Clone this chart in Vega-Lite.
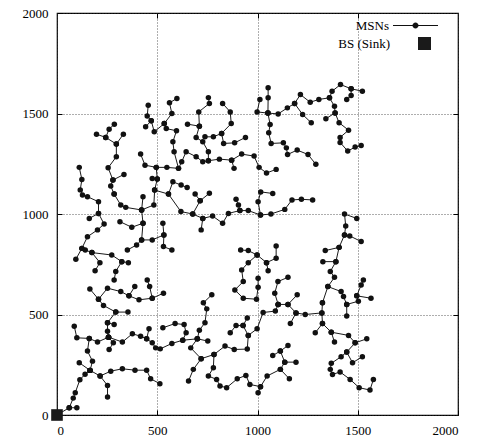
{
  "$schema": "https://vega.github.io/schema/vega-lite/v6.json",
  "width": 401,
  "height": 402,
  "autosize": {"type": "none"},
  "padding": {"left": 57, "top": 13, "right": 23, "bottom": 26},
  "background": "white",
  "config": {
    "view": {"stroke": "black", "strokeWidth": 1.2},
    "axis": {
      "labelFont": "Liberation Serif",
      "labelFontSize": 13,
      "labelColor": "black",
      "domain": false,
      "tickColor": "black",
      "tickSize": -5,
      "tickWidth": 1,
      "gridColor": "#333333",
      "gridDash": [1, 2],
      "gridWidth": 0.8,
      "title": null,
      "format": "d"
    },
    "axisX": {"labelPadding": 14},
    "axisY": {"labelPadding": 14}
  },
  "datasets": {
    "tree": [
      {"c":1,"x":0,"y":0},{"c":1,"x":61,"y":36},{"c":1,"x":81,"y":84},{"c":1,"x":91,"y":111},{"c":1,"x":114,"y":175},{"c":1,"x":140,"y":203},{"c":1,"x":165,"y":222},
      {"c":2,"x":61,"y":36},{"c":2,"x":99,"y":36},
      {"c":3,"x":165,"y":222},{"c":3,"x":111,"y":260},
      {"c":4,"x":165,"y":222},{"c":4,"x":177,"y":268},{"c":4,"x":152,"y":318},{"c":4,"x":161,"y":381},
      {"c":5,"x":86,"y":442},{"c":5,"x":99,"y":384},{"c":5,"x":161,"y":381},{"c":5,"x":202,"y":363},{"c":5,"x":257,"y":387},
      {"c":6,"x":257,"y":387},{"c":6,"x":252,"y":417},{"c":6,"x":252,"y":459},{"c":6,"x":293,"y":512},{"c":6,"x":354,"y":512},
      {"c":7,"x":252,"y":459},{"c":7,"x":285,"y":450},
      {"c":8,"x":257,"y":387},{"c":8,"x":281,"y":359},{"c":8,"x":260,"y":326},
      {"c":9,"x":257,"y":387},{"c":9,"x":326,"y":363},{"c":9,"x":376,"y":404},{"c":9,"x":417,"y":392},{"c":9,"x":447,"y":379},{"c":9,"x":475,"y":359},{"c":9,"x":492,"y":334},{"c":9,"x":515,"y":329},{"c":9,"x":573,"y":356},{"c":9,"x":627,"y":372},{"c":9,"x":700,"y":379},{"c":9,"x":752,"y":368},
      {"c":10,"x":447,"y":379},{"c":10,"x":459,"y":429},
      {"c":11,"x":627,"y":372},{"c":11,"x":644,"y":409},{"c":11,"x":634,"y":450},{"c":11,"x":589,"y":455},{"c":11,"x":528,"y":434},
      {"c":12,"x":700,"y":379},{"c":12,"x":710,"y":422},{"c":12,"x":738,"y":459},{"c":12,"x":747,"y":528},{"c":12,"x":730,"y":558},{"c":12,"x":772,"y":598},
      {"c":13,"x":165,"y":222},{"c":13,"x":215,"y":194},{"c":13,"x":252,"y":147},{"c":13,"x":252,"y":89},
      {"c":14,"x":215,"y":194},{"c":14,"x":268,"y":218},{"c":14,"x":326,"y":230},{"c":14,"x":389,"y":223},{"c":14,"x":447,"y":223},{"c":14,"x":467,"y":180},{"c":14,"x":513,"y":156},
      {"c":15,"x":700,"y":379},{"c":15,"x":667,"y":334},{"c":15,"x":719,"y":280},{"c":15,"x":783,"y":301},{"c":15,"x":838,"y":343},{"c":15,"x":884,"y":326},{"c":15,"x":949,"y":328},{"c":15,"x":954,"y":396},{"c":15,"x":998,"y":429},{"c":15,"x":1028,"y":510},{"c":15,"x":1089,"y":517},{"c":15,"x":1103,"y":550},
      {"c":16,"x":719,"y":280},{"c":16,"x":680,"y":227},{"c":16,"x":656,"y":169},
      {"c":17,"x":783,"y":301},{"c":17,"x":780,"y":235},{"c":17,"x":755,"y":194},{"c":17,"x":796,"y":177},{"c":17,"x":813,"y":144},{"c":17,"x":846,"y":136},{"c":17,"x":899,"y":180},{"c":17,"x":942,"y":197},{"c":17,"x":962,"y":152},{"c":17,"x":1015,"y":141},{"c":17,"x":1003,"y":111},
      {"c":18,"x":1015,"y":141},{"c":18,"x":1048,"y":194},{"c":18,"x":1114,"y":227},{"c":18,"x":1136,"y":263},{"c":18,"x":1192,"y":263},
      {"c":19,"x":1114,"y":227},{"c":19,"x":1159,"y":180},
      {"c":20,"x":1136,"y":263},{"c":20,"x":1114,"y":318},{"c":20,"x":1152,"y":346},
      {"c":21,"x":1114,"y":318},{"c":21,"x":1076,"y":296},
      {"c":22,"x":954,"y":396},{"c":22,"x":928,"y":445},{"c":22,"x":949,"y":483},
      {"c":23,"x":928,"y":445},{"c":23,"x":893,"y":445},{"c":23,"x":864,"y":409},
      {"c":25,"x":1103,"y":550},{"c":25,"x":1152,"y":550},{"c":25,"x":1192,"y":508},{"c":25,"x":1238,"y":500},{"c":25,"x":1321,"y":508},{"c":25,"x":1324,"y":558},
      {"c":26,"x":1192,"y":508},{"c":26,"x":1164,"y":455},
      {"c":27,"x":1321,"y":508},{"c":27,"x":1324,"y":455},{"c":27,"x":1288,"y":409},
      {"c":28,"x":1324,"y":455},{"c":28,"x":1368,"y":412},{"c":28,"x":1384,"y":363},
      {"c":29,"x":1368,"y":412},{"c":29,"x":1454,"y":396},{"c":29,"x":1487,"y":359},{"c":29,"x":1545,"y":379},
      {"c":30,"x":1487,"y":359},{"c":30,"x":1445,"y":313},{"c":30,"x":1417,"y":290},{"c":30,"x":1368,"y":257},{"c":30,"x":1363,"y":227},{"c":30,"x":1374,"y":202},{"c":30,"x":1412,"y":214},{"c":30,"x":1462,"y":177},{"c":30,"x":1507,"y":136},{"c":30,"x":1561,"y":124},{"c":30,"x":1578,"y":177},
      {"c":31,"x":1445,"y":313},{"c":31,"x":1474,"y":260},{"c":31,"x":1523,"y":290},
      {"c":32,"x":1103,"y":550},{"c":32,"x":1086,"y":606},{"c":32,"x":1102,"y":664},{"c":32,"x":1152,"y":685},
      {"c":33,"x":1152,"y":550},{"c":33,"x":1198,"y":598},
      {"c":34,"x":1324,"y":558},{"c":34,"x":1351,"y":639},{"c":34,"x":1384,"y":685},{"c":34,"x":1363,"y":714},{"c":34,"x":1391,"y":763},{"c":34,"x":1407,"y":834},{"c":34,"x":1434,"y":896},{"c":34,"x":1440,"y":940},{"c":34,"x":1434,"y":1000},{"c":34,"x":1495,"y":978},
      {"c":35,"x":1391,"y":763},{"c":35,"x":1326,"y":763},
      {"c":36,"x":1407,"y":834},{"c":36,"x":1338,"y":818},
      {"c":37,"x":1434,"y":896},{"c":37,"x":1460,"y":891},{"c":37,"x":1517,"y":863},
      {"c":38,"x":1351,"y":639},{"c":38,"x":1417,"y":614},{"c":38,"x":1429,"y":589},{"c":38,"x":1445,"y":550},{"c":38,"x":1445,"y":492},
      {"c":39,"x":1445,"y":550},{"c":39,"x":1503,"y":566},{"c":39,"x":1495,"y":593},{"c":39,"x":1517,"y":647},{"c":39,"x":1528,"y":672},
      {"c":40,"x":1495,"y":593},{"c":40,"x":1566,"y":581},
      {"c":41,"x":916,"y":821},{"c":41,"x":954,"y":818},{"c":41,"x":998,"y":796},{"c":41,"x":1045,"y":758},{"c":41,"x":1093,"y":780},{"c":41,"x":1093,"y":841},
      {"c":42,"x":1045,"y":758},{"c":42,"x":1053,"y":718},
      {"c":43,"x":998,"y":796},{"c":43,"x":954,"y":758},{"c":43,"x":921,"y":722},{"c":43,"x":929,"y":664},{"c":43,"x":887,"y":622},{"c":43,"x":929,"y":581},{"c":43,"x":995,"y":576},{"c":43,"x":1003,"y":636},{"c":43,"x":1003,"y":680},
      {"c":44,"x":111,"y":1232},{"c":44,"x":124,"y":1172},{"c":44,"x":116,"y":1120},{"c":44,"x":127,"y":1094},{"c":44,"x":152,"y":1086},{"c":44,"x":207,"y":1061},{"c":44,"x":207,"y":1003},{"c":44,"x":235,"y":950},{"c":44,"x":202,"y":921},{"c":44,"x":152,"y":887},{"c":44,"x":124,"y":829},{"c":44,"x":94,"y":775},
      {"c":45,"x":207,"y":1003},{"c":45,"x":161,"y":978},
      {"c":46,"x":124,"y":829},{"c":46,"x":141,"y":821},{"c":46,"x":174,"y":808},{"c":46,"x":214,"y":758},{"c":46,"x":190,"y":718},
      {"c":47,"x":174,"y":808},{"c":47,"x":273,"y":796},{"c":47,"x":323,"y":763},{"c":47,"x":356,"y":758},
      {"c":48,"x":323,"y":763},{"c":48,"x":293,"y":714},{"c":48,"x":285,"y":672},
      {"c":49,"x":164,"y":627},{"c":49,"x":207,"y":576},{"c":49,"x":252,"y":631},{"c":49,"x":318,"y":614},{"c":49,"x":359,"y":593},{"c":49,"x":409,"y":573},{"c":49,"x":475,"y":581},{"c":49,"x":531,"y":606},
      {"c":50,"x":359,"y":593},{"c":50,"x":388,"y":639},
      {"c":51,"x":475,"y":581},{"c":51,"x":462,"y":639},{"c":51,"x":450,"y":672},
      {"c":52,"x":207,"y":576},{"c":52,"x":232,"y":545},{"c":52,"x":293,"y":512},
      {"c":53,"x":285,"y":1099},{"c":53,"x":318,"y":1045},{"c":53,"x":343,"y":1033},{"c":53,"x":422,"y":1020},{"c":53,"x":483,"y":1045},{"c":53,"x":487,"y":1119},{"c":53,"x":500,"y":1174},{"c":53,"x":495,"y":1232},
      {"c":85,"x":500,"y":1174},{"c":85,"x":475,"y":1177},
      {"c":54,"x":422,"y":1020},{"c":54,"x":429,"y":1086},
      {"c":55,"x":422,"y":1020},{"c":55,"x":429,"y":954},{"c":55,"x":373,"y":934},{"c":55,"x":314,"y":962},
      {"c":56,"x":429,"y":954},{"c":56,"x":422,"y":871},{"c":56,"x":397,"y":846},{"c":56,"x":351,"y":821},
      {"c":57,"x":422,"y":871},{"c":57,"x":475,"y":871},{"c":57,"x":533,"y":896},{"c":57,"x":528,"y":954},
      {"c":86,"x":533,"y":896},{"c":86,"x":531,"y":838},{"c":86,"x":573,"y":821},
      {"c":58,"x":556,"y":1099},{"c":58,"x":618,"y":1012},{"c":58,"x":677,"y":1000},{"c":58,"x":727,"y":978},{"c":58,"x":776,"y":990},{"c":58,"x":826,"y":954},{"c":58,"x":855,"y":1003},{"c":58,"x":912,"y":1017},{"c":58,"x":954,"y":1017},{"c":58,"x":1015,"y":995},{"c":58,"x":1067,"y":1000},{"c":58,"x":1136,"y":1023},{"c":58,"x":1172,"y":1070},{"c":58,"x":1219,"y":1073},{"c":58,"x":1275,"y":1070},
      {"c":59,"x":727,"y":978},{"c":59,"x":719,"y":921},
      {"c":60,"x":912,"y":1017},{"c":60,"x":905,"y":1045},{"c":60,"x":893,"y":1073},
      {"c":61,"x":1015,"y":995},{"c":61,"x":1003,"y":1061},{"c":61,"x":1016,"y":1110},{"c":61,"x":1076,"y":1102},
      {"c":62,"x":677,"y":1000},{"c":62,"x":714,"y":1066},{"c":62,"x":689,"y":1099},
      {"c":63,"x":714,"y":1066},{"c":63,"x":760,"y":1103},
      {"c":64,"x":487,"y":1119},{"c":64,"x":556,"y":1099},{"c":64,"x":578,"y":1160},{"c":64,"x":619,"y":1144},{"c":64,"x":649,"y":1132},
      {"c":65,"x":1291,"y":1247},{"c":65,"x":1252,"y":1296},{"c":65,"x":1198,"y":1318},{"c":65,"x":1150,"y":1296},{"c":65,"x":1144,"y":1329},{"c":65,"x":1129,"y":1354},{"c":65,"x":1068,"y":1351},{"c":65,"x":1056,"y":1404},{"c":65,"x":1063,"y":1445},{"c":65,"x":1052,"y":1502},{"c":65,"x":1053,"y":1578},{"c":65,"x":1053,"y":1628},
      {"c":66,"x":1052,"y":1502},{"c":66,"x":1103,"y":1498},{"c":66,"x":1149,"y":1528},{"c":66,"x":1185,"y":1550},{"c":66,"x":1214,"y":1594},{"c":66,"x":1263,"y":1556},{"c":66,"x":1306,"y":1570},{"c":66,"x":1359,"y":1578},{"c":66,"x":1372,"y":1611},{"c":66,"x":1414,"y":1644},{"c":66,"x":1467,"y":1623},{"c":66,"x":1523,"y":1611},
      {"c":67,"x":1467,"y":1623},{"c":67,"x":1467,"y":1589},{"c":67,"x":1445,"y":1570},
      {"c":68,"x":1185,"y":1550},{"c":68,"x":1225,"y":1495},{"c":68,"x":1268,"y":1454},
      {"c":69,"x":1359,"y":1578},{"c":69,"x":1384,"y":1536},{"c":69,"x":1387,"y":1503},{"c":69,"x":1407,"y":1454},{"c":69,"x":1454,"y":1417},{"c":69,"x":1412,"y":1381},{"c":69,"x":1412,"y":1356},{"c":69,"x":1450,"y":1313},{"c":69,"x":1487,"y":1333},{"c":69,"x":1517,"y":1341},
      {"c":70,"x":1387,"y":1503},{"c":70,"x":1341,"y":1474},
      {"c":71,"x":1052,"y":1502},{"c":71,"x":998,"y":1508},{"c":71,"x":1012,"y":1570},
      {"c":72,"x":417,"y":1298},{"c":72,"x":439,"y":1243},{"c":72,"x":495,"y":1232},{"c":72,"x":548,"y":1232},{"c":72,"x":606,"y":1227},{"c":72,"x":622,"y":1260},{"c":72,"x":644,"y":1310},{"c":72,"x":694,"y":1285},{"c":72,"x":727,"y":1260},{"c":72,"x":755,"y":1265},{"c":72,"x":810,"y":1273},{"c":72,"x":871,"y":1268},{"c":72,"x":921,"y":1298},{"c":72,"x":983,"y":1288},{"c":72,"x":1008,"y":1232},{"c":72,"x":1045,"y":1204},{"c":72,"x":1093,"y":1222},
      {"c":73,"x":871,"y":1268},{"c":73,"x":883,"y":1227},
      {"c":74,"x":755,"y":1265},{"c":74,"x":755,"y":1310},{"c":74,"x":727,"y":1359},{"c":74,"x":694,"y":1381},{"c":74,"x":710,"y":1437},{"c":74,"x":707,"y":1508},{"c":74,"x":760,"y":1550},{"c":74,"x":755,"y":1579},
      {"c":75,"x":710,"y":1437},{"c":75,"x":651,"y":1447},
      {"c":76,"x":826,"y":1550},{"c":76,"x":864,"y":1508},{"c":76,"x":869,"y":1450},{"c":76,"x":821,"y":1401},{"c":76,"x":780,"y":1384},{"c":76,"x":738,"y":1384},
      {"c":77,"x":821,"y":1401},{"c":77,"x":831,"y":1351},{"c":77,"x":886,"y":1354},{"c":77,"x":940,"y":1381},
      {"c":78,"x":606,"y":1227},{"c":78,"x":584,"y":1310},{"c":78,"x":578,"y":1359},{"c":78,"x":596,"y":1414},{"c":78,"x":545,"y":1425},{"c":78,"x":535,"y":1450},{"c":78,"x":573,"y":1500},{"c":78,"x":561,"y":1553},{"c":78,"x":598,"y":1575},
      {"c":79,"x":535,"y":1450},{"c":79,"x":485,"y":1409},{"c":79,"x":470,"y":1464},{"c":79,"x":450,"y":1487},{"c":79,"x":455,"y":1541},
      {"c":80,"x":470,"y":1464},{"c":80,"x":442,"y":1434},
      {"c":81,"x":286,"y":1447},{"c":81,"x":260,"y":1422},{"c":81,"x":243,"y":1381},{"c":81,"x":197,"y":1397},
      {"c":82,"x":243,"y":1381},{"c":82,"x":296,"y":1348},{"c":82,"x":331,"y":1397},
      {"c":83,"x":296,"y":1348},{"c":83,"x":296,"y":1285},{"c":83,"x":255,"y":1230},{"c":83,"x":279,"y":1169},{"c":83,"x":334,"y":1197},
      {"c":84,"x":279,"y":1169},{"c":84,"x":268,"y":1139},{"c":84,"x":285,"y":1099}
    ],
    "sink": [{"x": 0, "y": 0}]
  },
  "resolve": {"axis": {"x": "independent", "y": "independent"}},
  "layer": [
    {
      "data": {"name": "tree"},
      "mark": {"type": "line", "color": "#1a1a1a", "strokeWidth": 1},
      "encoding": {
        "x": {"field": "x", "type": "quantitative", "scale": {"domain": [0, 2000], "nice": false},
              "axis": {"orient": "bottom", "values": [0, 500, 1000, 1500, 2000], "grid": true}},
        "y": {"field": "y", "type": "quantitative", "scale": {"domain": [0, 2000], "nice": false},
              "axis": {"orient": "left", "values": [0, 500, 1000, 1500, 2000], "grid": true}},
        "detail": {"field": "c", "type": "nominal"},
        "order": {"value": null}
      }
    },
    {
      "data": {"name": "tree"},
      "mark": {"type": "circle", "opacity": 1, "size": 30},
      "encoding": {
        "x": {"field": "x", "type": "quantitative", "axis": null},
        "y": {"field": "y", "type": "quantitative", "axis": null},
        "color": {
          "datum": "MSNs",
          "type": "nominal",
          "scale": {"domain": ["MSNs"], "range": ["#111111"]},
          "legend": {
            "orient": "none",
            "legendX": 352,
            "legendY": 6,
            "title": null,
            "padding": 0,
            "labelFont": "Liberation Serif",
            "labelFontSize": 13,
            "labelColor": "black",
            "labelAlign": "right",
            "labelOffset": -33,
            "symbolSize": 100,
            "symbolType": "M-4.5,-0.1H4.5V0.1H-4.5ZM-0.6,0A0.6,0.6,0,1,1,0.6,0A0.6,0.6,0,1,1,-0.6,0Z",
            "symbolFillColor": "#111111",
            "symbolStrokeWidth": 0,
            "symbolOpacity": 1
          }
        }
      }
    },
    {
      "data": {"name": "sink"},
      "mark": {"type": "point", "filled": true, "opacity": 1, "size": 135, "color": "#1a1a1a"},
      "encoding": {
        "x": {"field": "x", "type": "quantitative",
              "axis": {"orient": "top", "values": [500, 1000, 1500], "labels": false, "grid": false}},
        "y": {"field": "y", "type": "quantitative",
              "axis": {"orient": "right", "values": [500, 1000, 1500], "labels": false, "grid": false}},
        "shape": {
          "datum": "BS (Sink)",
          "type": "nominal",
          "scale": {"domain": ["BS (Sink)"], "range": ["square"]},
          "legend": {
            "orient": "none",
            "legendX": 361,
            "legendY": 24,
            "title": null,
            "padding": 0,
            "labelFont": "Liberation Serif",
            "labelFontSize": 13,
            "labelColor": "black",
            "labelAlign": "right",
            "labelOffset": -41,
            "symbolSize": 169,
            "symbolFillColor": "#1a1a1a",
            "symbolStrokeWidth": 0,
            "symbolOpacity": 1
          }
        }
      }
    }
  ]
}
